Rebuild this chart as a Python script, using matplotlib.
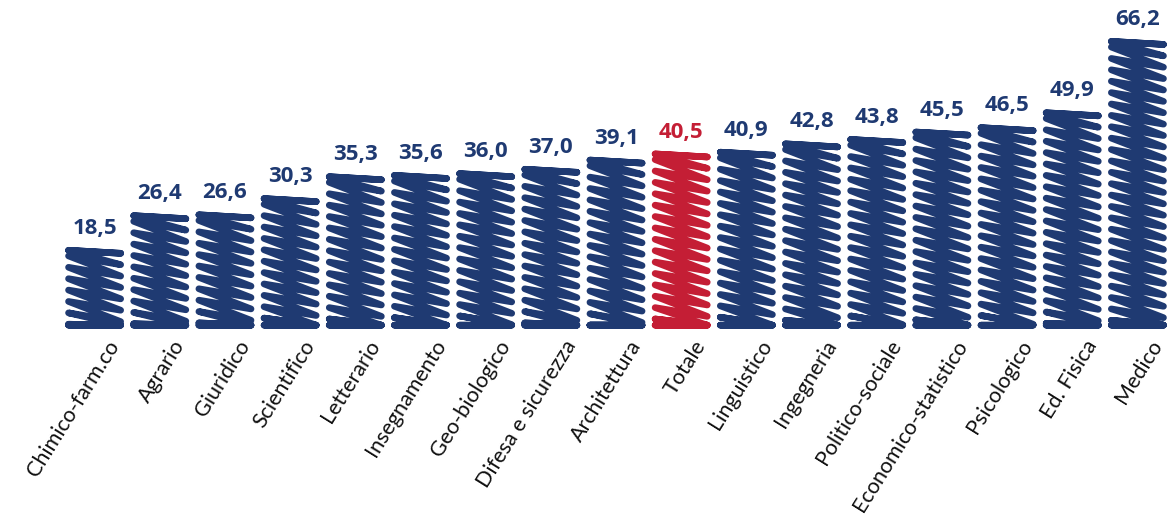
import matplotlib
matplotlib.use("Agg")
import matplotlib.pyplot as plt
import matplotlib.transforms as mtransforms

# dati: percentuale per gruppo disciplinare
gruppi = ["Chimico-farm.co", "Agrario", "Giuridico", "Scientifico", "Letterario",
          "Insegnamento", "Geo-biologico", "Difesa e sicurezza", "Architettura",
          "Totale", "Linguistico", "Ingegneria", "Politico-sociale",
          "Economico-statistico", "Psicologico", "Ed. Fisica", "Medico"]
valori = [18.5, 26.4, 26.6, 30.3, 35.3, 35.6, 36.0, 37.0, 39.1,
          40.5, 40.9, 42.8, 43.8, 45.5, 46.5, 49.9, 66.2]

blu = "#1f3a72"
rosso = "#c41e35"
colori = [rosso if g == "Totale" else blu for g in gruppi]

fig = plt.figure(figsize=(11.7, 5.21), dpi=100)
ax = fig.add_axes([0.053, 0.370, 0.947, 0.59])

x = list(range(len(gruppi)))
bars = ax.bar(x, valori, width=0.8, color="none", edgecolor="none")

ax.set_xlim(-0.5, len(gruppi) - 0.5)
ax.set_ylim(0, 70.2)


def zigzag(x0, x1, bot, top, passo, pend):
    # linea a zigzag, y bloccata dentro la barra -> bordi quasi piatti
    xs, ys = [], []
    y = top + pend * 0.85
    while y > bot - passo:
        for xx, yy in ((x0, y), (x1, y - pend)):
            xs.append(xx)
            ys.append(min(max(yy, bot), top))
        y -= passo
    return xs, ys


# riempimento "a scarabocchio"
for b, c in zip(bars, colori):
    x0, x1 = b.get_x(), b.get_x() + b.get_width()
    top, bot = b.get_height() - 0.7, 0.7
    xs, ys = zigzag(x0, x1, bot, top, 2.6, 4.6)
    ax.plot(xs, ys, color=c, lw=4.8, solid_capstyle="round",
            solid_joinstyle="round", clip_on=False)

for xi, v, c in zip(x, valori, colori):
    ax.annotate(f"{v:.1f}".replace(".", ","), (xi, v), xytext=(0, 6),
                textcoords="offset points", ha="center", va="bottom",
                fontsize=16, fontweight="bold", family="Open Sans", color=c)

ax.set_xticks(x)
ax.set_xticklabels(gruppi, rotation=58, ha="right", rotation_mode="anchor",
                   fontsize=15.5, family="Lato", color="#111111")
ax.tick_params(axis="x", length=0, pad=6)
offset = mtransforms.ScaledTranslation(12 / 100, 0, fig.dpi_scale_trans)
for lab in ax.get_xticklabels():
    lab.set_transform(lab.get_transform() + offset)

ax.set_yticks([])
for s in ax.spines.values():
    s.set_visible(False)

fig.savefig("out.png", dpi=100)
